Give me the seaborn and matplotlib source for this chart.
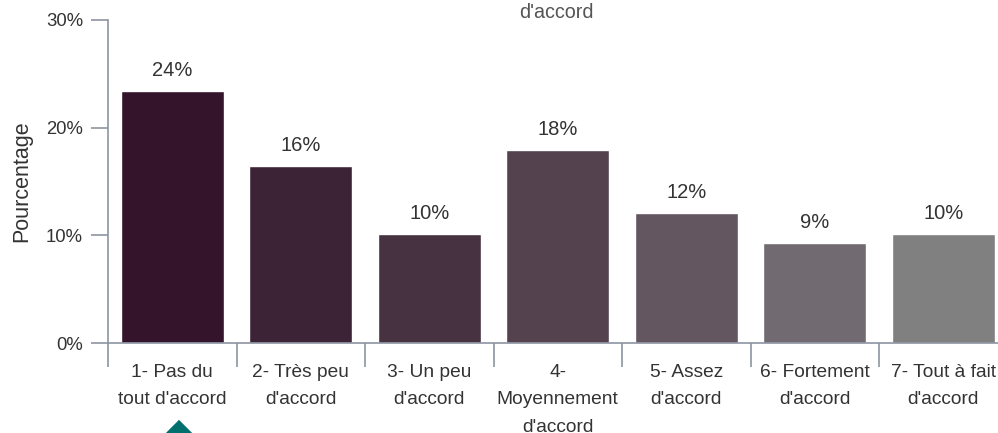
import matplotlib.pyplot as plt
import pandas as pd
import seaborn as sns
from matplotlib import transforms

categories = ["1- Pas du\ntout d'accord", "2- Très peu\nd'accord", "3- Un peu\nd'accord",
              "4-\nMoyennement\nd'accord", "5- Assez\nd'accord", "6- Fortement\nd'accord",
              "7- Tout à fait\nd'accord"]
values = [23.4, 16.4, 10.1, 17.9, 12.1, 9.3, 10.1]
value_labels = ["24%", "16%", "10%", "18%", "12%", "9%", "10%"]
bar_colors = ["#33142b", "#3c2336", "#463240", "#54434f", "#645661", "#716a70", "#808080"]

sns.set_theme(style="white")
plt.rcParams['font.family'] = ['Liberation Sans', 'DejaVu Sans']

df = pd.DataFrame({'categorie': categories, 'pourcentage': values})

fig = plt.figure(figsize=(9.98, 4.33), dpi=100)
ax = fig.add_axes([108 / 998, 90 / 433, 899.5 / 998, 323 / 433])

sns.barplot(data=df, x='categorie', y='pourcentage', hue='categorie', palette=bar_colors,
            legend=False, width=0.8, saturation=1, ax=ax)

for cont, lab in zip(ax.containers, value_labels):
    ax.bar_label(cont, labels=[lab], padding=8, fontsize=14.5, color='#333333')

axis_col = '#8c95a3'
txt_col = '#333333'
ax.set_ylim(0, 30)
ax.set_xlim(-0.5, len(categories) - 0.5)
ax.set_yticks([0, 10, 20, 30])
ax.set_yticklabels(['0%', '10%', '20%', '30%'])
ax.set_xticks(range(len(categories)))
ax.set_xticklabels(categories, fontsize=13.8, color=txt_col, linespacing=1.8)
ax.tick_params(axis='x', length=0, pad=15)
ax.tick_params(axis='y', length=12, width=1.2, color=axis_col, labelsize=13.3,
               labelcolor=txt_col, pad=6, left=True)
# category separators below the x axis
ax.set_xticks([i - 0.5 for i in range(len(categories) + 1)], minor=True)
ax.tick_params(axis='x', which='minor', length=17, width=1.2, color=axis_col, bottom=True)

for side in ['top', 'right']:
    ax.spines[side].set_visible(False)
for side in ['left', 'bottom']:
    ax.spines[side].set_color(axis_col)
    ax.spines[side].set_linewidth(1.2)

ax.set_xlabel('')
ax.set_ylabel('Pourcentage', fontsize=15.5, color=txt_col, labelpad=10)

fig.text(0.557, 0.970, "d'accord", ha='center', va='center', fontsize=14.2, color='#555555')

# selected-answer marker under the first category
tri = [(-1, 0), (1, 0), (0, 1)]
trans = transforms.blended_transform_factory(ax.transData, ax.transAxes)
ax.plot([0.047], [-0.30], marker=tri, markersize=29, color='#00706e', transform=trans,
        clip_on=False)

fig.savefig('out.png', dpi=100)
